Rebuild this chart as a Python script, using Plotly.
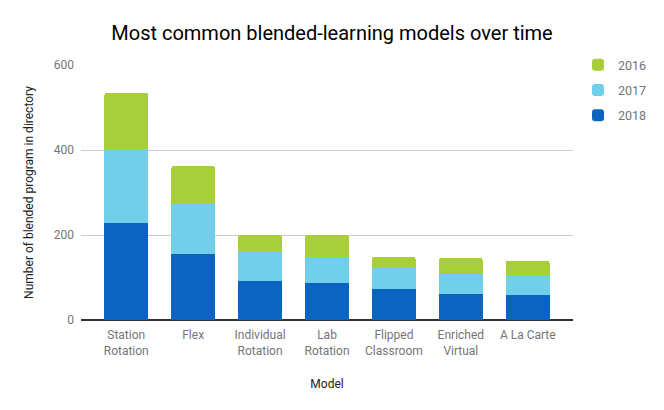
import plotly.graph_objects as go

categories = ["Station<br>Rotation", "Flex", "Individual<br>Rotation", "Lab<br>Rotation",
              "Flipped<br>Classroom", "Enriched<br>Virtual", "A La Carte"]
v2018 = [229, 156, 92, 88, 74, 62, 59]
v2017 = [173, 118, 69, 60, 49, 47, 47]
v2016 = [133, 88, 39, 52, 25, 37, 33]
y_ticks = [0, 200, 400, 600]

fig = go.Figure()
fig.add_trace(go.Bar(name="2018", x=categories, y=v2018, marker_color="#0b64c0", legendgroup="a", legendrank=3))
fig.add_trace(go.Bar(name="2017", x=categories, y=v2017, marker_color="#71cfe9", legendgroup="b", legendrank=2))
fig.add_trace(go.Bar(name="2016", x=categories, y=v2016, marker_color="#a8ce3a", legendgroup="c", legendrank=1))

fig.update_traces(marker_line_width=0)
fig.update_layout(
    barmode="stack",
    bargap=0.35,
    barcornerradius=2,
    width=664, height=410,
    margin=dict(l=81, r=91, t=65, b=90),
    paper_bgcolor="white", plot_bgcolor="white",
    font=dict(family="Roboto", color="#757575", size=12),
    title=dict(text="Most common blended-learning models over time", x=0.5, xanchor="center",
               y=0.92, yanchor="middle", font=dict(family="Roboto", size=20, color="#000000")),
    legend=dict(xref="container", yref="container", x=0.8916, xanchor="left", y=0.878, yanchor="top",
                traceorder="grouped", tracegroupgap=6, indentation=-14,
                font=dict(size=12.5, color="#757575"), itemwidth=30),
    showlegend=True,
)
fig.update_xaxes(range=[-0.676, 6.676], title=dict(text="Model", font=dict(size=12, color="#222222"), standoff=22),
                 tickfont=dict(size=12, color="#757575"), showline=True, linecolor="#333333", linewidth=1,
                 ticks="", ticklabelstandoff=4)
fig.update_yaxes(range=[0, 600], tickvals=y_ticks, gridcolor="#cccccc", gridwidth=1,
                 zeroline=True, zerolinecolor="#333333", zerolinewidth=1.5,
                 title=dict(text="Number of blended program in directory", font=dict(size=12, color="#222222"), standoff=17),
                 tickfont=dict(size=12, color="#757575"), ticks="", ticklabelstandoff=6)

fig.write_html("out.html", config={"displayModeBar": False},
               post_script="document.body.style.margin='0';")
